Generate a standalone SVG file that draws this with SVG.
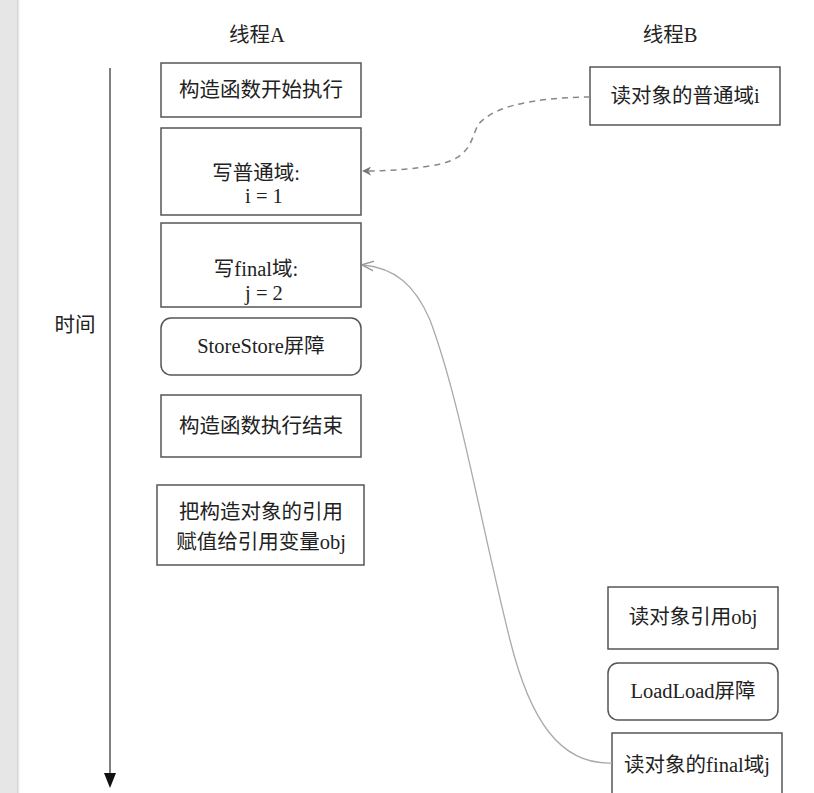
<svg xmlns="http://www.w3.org/2000/svg" width="814" height="793" viewBox="0 0 814 793">
<defs>
<linearGradient id="sh" x1="0" x2="1" y1="0" y2="0"><stop offset="0" stop-color="#c8c8c8"/><stop offset="1" stop-color="#ffffff" stop-opacity="0"/></linearGradient>
<marker id="ah" viewBox="0 0 10 10" refX="9" refY="5" markerWidth="9" markerHeight="9" markerUnits="userSpaceOnUse" orient="auto"><path d="M0,0 L10,5 L0,10 L3,5 Z" fill="#777"/></marker>
<marker id="ag" viewBox="0 0 10 10" refX="9" refY="5" markerWidth="12" markerHeight="12" markerUnits="userSpaceOnUse" orient="auto"><path d="M0,1 L10,5 L0,9" fill="none" stroke="#999" stroke-width="1.2"/></marker>
</defs>
<style>
.b{fill:#fff;stroke:#555;stroke-width:1.5}
.t{font-family:"Liberation Serif","Noto Sans CJK SC",serif;font-size:20.5px;fill:#222;text-anchor:middle}
</style>
<rect x="0" y="0" width="814" height="793" fill="#fff"/>
<rect x="0" y="0" width="17" height="793" fill="#e6e6e6"/>
<rect x="17" y="0" width="4" height="793" fill="url(#sh)"/>
<text class="t" x="257" y="42">线程A</text>
<text class="t" x="670" y="42">线程B</text>
<text class="t" x="75" y="332">时间</text>
<g id="axis">
<line x1="110" y1="68" x2="110" y2="776" stroke="#555" stroke-width="1.5"/>
<path d="M104,773 L116,773 L110,788 Z" fill="#111"/>
</g>
<g id="n1"><rect class="b" x="161" y="63" width="200" height="54"/><text class="t" x="261" y="97">构造函数开始执行</text></g>
<g id="n2"><rect class="b" x="161" y="128" width="200" height="87"/><text class="t" x="256" y="180">写普通域:</text><text class="t" x="264" y="203">i = 1</text></g>
<g id="n3"><rect class="b" x="161" y="223" width="200" height="84"/><text class="t" x="256" y="276">写final域:</text><text class="t" x="264" y="300">j = 2</text></g>
<g id="n4"><rect class="b" x="161" y="318" width="200" height="57" rx="10" stroke="#888"/><text class="t" x="261" y="353">StoreStore屏障</text></g>
<g id="n5"><rect class="b" x="161" y="395" width="200" height="62"/><text class="t" x="261" y="433">构造函数执行结束</text></g>
<g id="n6"><rect class="b" x="157" y="485" width="207" height="80"/><text class="t" x="261" y="519">把构造对象的引用</text><text class="t" x="261" y="549">赋值给引用变量obj</text></g>
<g id="n7"><rect class="b" x="590" y="67" width="190" height="58"/><text class="t" x="685" y="103">读对象的普通域i</text></g>
<g id="n8"><rect class="b" x="608" y="587" width="170" height="62"/><text class="t" x="693" y="624">读对象引用obj</text></g>
<g id="n9"><rect class="b" x="608" y="663" width="170" height="57" rx="10" stroke="#888"/><text class="t" x="693" y="698">LoadLoad屏障</text></g>
<g id="n10"><rect class="b" x="612" y="733" width="170" height="70"/><text class="t" x="697" y="772">读对象的final域j</text></g>
<g id="connectors">
<path d="M590,97 C520,98 490,110 478,125 C470,140 472,160 430,166 C405,170 385,171 363,171" fill="none" stroke="#888" stroke-width="1.5" stroke-dasharray="6,5" marker-end="url(#ah)"/>
<path d="M612,763 C560,765 530,720 510,640 C480,520 460,400 430,320 C415,285 395,268 363,265" fill="none" stroke="#aaa" stroke-width="1.3" marker-end="url(#ag)"/>
</g>
</svg>
